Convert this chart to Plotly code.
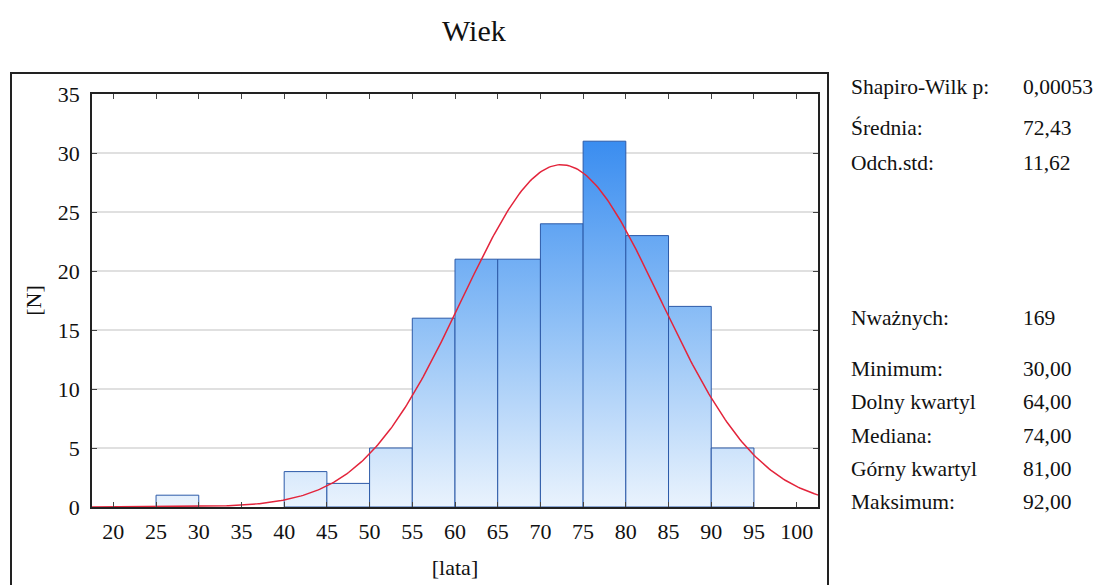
import numpy as np
import plotly.graph_objects as go

# ---- data ----
bin_starts = [25, 40, 45, 50, 55, 60, 65, 70, 75, 80, 85, 90]
bin_width = 5
counts = [1, 3, 2, 5, 16, 21, 21, 24, 31, 23, 17, 5]
mean_val = 72.43
sd_val = 11.62
n_valid = 169
x_ticks = [20, 25, 30, 35, 40, 45, 50, 55, 60, 65, 70, 75, 80, 85, 90, 95, 100]
y_ticks = [0, 5, 10, 15, 20, 25, 30, 35]
stat_labels = ["Shapiro-Wilk p:", "Średnia:", "Odch.std:", "Nważnych:", "Minimum:",
               "Dolny kwartyl", "Mediana:", "Górny kwartyl", "Maksimum:"]
stat_values = ["0,00053", "72,43", "11,62", "169", "30,00", "64,00", "74,00", "81,00", "92,00"]
stat_ypix = [87, 128, 163, 318, 369, 402, 436, 469, 502]

FONT = "Liberation Serif"
W, H = 1094, 585
L, R, T, B = 92, 818, 94, 507
pw, ph = R - L, B - T

def px(x):
    return (x - L) / pw

def py(y):
    return (B - y) / ph

fig = go.Figure()

for s, c in zip(bin_starts, counts):
    e = s + bin_width
    fig.add_trace(go.Scatter(
        x=[s, s, e, e, s], y=[0, c, c, 0, 0],
        mode="lines", fill="toself",
        line=dict(color="#2c5aa8", width=1),
        fillgradient=dict(type="vertical",
                          colorscale=[[0, "#eaf3fd"], [0.5, "#8fc0f6"], [1, "#3a8df0"]],
                          start=0, stop=31),
        hoverinfo="skip", showlegend=False))

xc = np.linspace(17.5, 102.5, 400)
yc = n_valid * bin_width * np.exp(-0.5 * ((xc - mean_val) / sd_val) ** 2) / (sd_val * np.sqrt(2 * np.pi))
fig.add_trace(go.Scatter(x=xc, y=yc, mode="lines",
                         line=dict(color="#e3243b", width=1.5),
                         showlegend=False, hoverinfo="skip"))

annotations = []
for lab, val, yy in zip(stat_labels, stat_values, stat_ypix):
    annotations.append(dict(text=lab, x=px(849), y=py(yy), xref="paper", yref="paper",
                            xanchor="left", yanchor="middle", showarrow=False,
                            font=dict(family=FONT, size=21.5, color="#111")))
    annotations.append(dict(text=val, x=px(1021), y=py(yy), xref="paper", yref="paper",
                            xanchor="left", yanchor="middle", showarrow=False,
                            font=dict(family=FONT, size=21.5, color="#111")))
annotations.append(dict(text="Wiek", x=px(474), y=py(31), xref="paper", yref="paper",
                        xanchor="center", yanchor="middle", showarrow=False,
                        font=dict(family=FONT, size=30, color="#111")))

fig.update_layout(
    width=W, height=H,
    margin=dict(l=L, r=W - R, t=T, b=H - B, autoexpand=False),
    plot_bgcolor="white", paper_bgcolor="white",
    font=dict(family=FONT, size=22, color="#111"),
    annotations=annotations,
    shapes=[dict(type="rect", xref="paper", yref="paper",
                 x0=px(11), x1=px(828), y0=py(600), y1=py(73),
                 line=dict(color="#222", width=2), fillcolor="rgba(0,0,0,0)", layer="below")],
    xaxis=dict(range=[17.5, 102.5], tickvals=x_ticks, ticks="inside", ticklen=5,
               showline=True, linecolor="#222", linewidth=1.5, mirror="ticks",
               showgrid=False, zeroline=False, tickfont=dict(size=22),
               ticklabelstandoff=4, automargin=False,
               title=dict(text="[lata]", font=dict(size=22), standoff=16)),
    yaxis=dict(range=[0, 35], tickvals=y_ticks, ticks="inside", ticklen=5,
               showline=True, linecolor="#222", linewidth=1.5, mirror="ticks",
               showgrid=True, gridcolor="#e0e0e0", gridwidth=1.5, zeroline=False,
               tickfont=dict(size=22), ticklabelstandoff=6, automargin=False,
               title=dict(text="[N]", font=dict(size=22), standoff=10)),
)

fig.write_html("out.html")
